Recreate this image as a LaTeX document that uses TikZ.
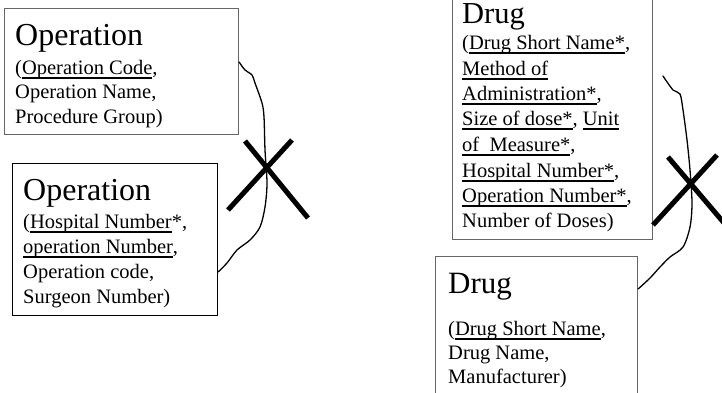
\documentclass[tikz,border=0pt]{standalone}
\usepackage{fontspec}
\setmainfont{Liberation Serif}
\newsavebox\ulbox
\newcommand\ulx[1]{\sbox\ulbox{#1}\rlap{\rule[-4.6pt]{\wd\ulbox}{1.3pt}}\usebox\ulbox}
\begin{document}
\begin{tikzpicture}[x=1pt,y=-1pt,
  box/.style={draw=#1, line width=1.1pt, inner sep=0pt, anchor=north west},
  ttl/.style={anchor=base west, inner sep=0pt, font=\fontsize{31}{36}\selectfont},
  txt/.style={anchor=base west, inner sep=0pt, font=\fontsize{20.5}{25}\selectfont},
  wiggle/.style={line width=1.3pt, line join=round, line cap=round},
  cross/.style={line width=5pt}]
\clip (0,0) rectangle (722,392);
% boxes
\node[box=black!60, minimum width=234pt, minimum height=126pt] (op1) at (4,8) {};
\node[box=black, minimum width=205pt, minimum height=152pt] (op2) at (12,163) {};
\node[box=black!60, minimum width=200pt, minimum height=250pt] (dr1) at (452,-11) {};
\node[box=black!60, minimum width=202pt, minimum height=150pt] (dr2) at (435,256) {};
% box 1 text
\node[ttl, font=\fontsize{32}{36}\selectfont] (op1t) at (15,45) {Operation};
\node[txt] (op1a) at (15,74) {(\ulx{Operation Code},};
\node[txt] (op1b) at (15,98) {Operation Name,};
\node[txt] (op1c) at (15,123) {Procedure Group)};
% box 2 text
\node[ttl, font=\fontsize{32}{36}\selectfont] (op2t) at (23,200) {Operation};
\node[txt] (op2a) at (23,228) {(\ulx{Hospital Number}*,};
\node[txt] (op2b) at (23,253) {\ulx{operation Number},};
\node[txt] (op2c) at (23,278) {Operation code,};
\node[txt] (op2d) at (23,303) {Surgeon Number)};
% box 3 text
\node[ttl, font=\fontsize{30.5}{36}\selectfont, text height=20pt] (dr1t) at (462,23) {Drug};
\node[txt] (dr1a) at (462,49) {(\ulx{Drug Short Name*},};
\node[txt] (dr1b) at (462,75) {\ulx{Method of}};
\node[txt] (dr1c) at (462,100) {\ulx{Administration*},};
\node[txt] (dr1d) at (462,125) {\ulx{Size of dose*}, \ulx{Unit}};
\node[txt] (dr1e) at (462,151) {\ulx{of~~Measure*},};
\node[txt] (dr1f) at (462,177) {\ulx{Hospital Number*},};
\node[txt] (dr1g) at (462,202) {\ulx{Operation Number*},};
\node[txt] (dr1h) at (462,227) {Number of Doses)};
% box 4 text
\node[ttl] (dr2t) at (448,293) {Drug};
\node[txt] (dr2a) at (448,335) {(\ulx{Drug Short Name},};
\node[txt] (dr2b) at (448,359) {Drug Name,};
\node[txt, text depth=3pt] (dr2c) at (448,383) {Manufacturer)};
% connectors
\coordinate (c1a) at ([yshift=-54pt]op1.north east);
\coordinate (c1b) at ([yshift=-109pt]op2.north east);
\draw[wiggle] plot[smooth, tension=0.5] coordinates {(c1a) (245,70) (252,75) (255,83) (262,103) (264,117) (265,150) (267,183) (265,207) (260,227) (250,240) (237,250) (227,263) (c1b)};
\coordinate (c2a) at (663,76);
\coordinate (c2b) at ([yshift=-33pt]dr2.north east);
\draw[wiggle] plot[smooth, tension=0.5] coordinates {(c2a) (673,90) (680,94) (683,110) (687,140) (690,170) (692,203) (690,227) (683,247) (670,257) (660,267) (650,278) (c2b)};
% crosses
\draw[cross] (245,141) -- (308,218);
\draw[cross] (292,140) -- (228,210);
\draw[cross] (668,157) -- (730,230);
\draw[cross] (717,155) -- (653,225);
\end{tikzpicture}
\end{document}
